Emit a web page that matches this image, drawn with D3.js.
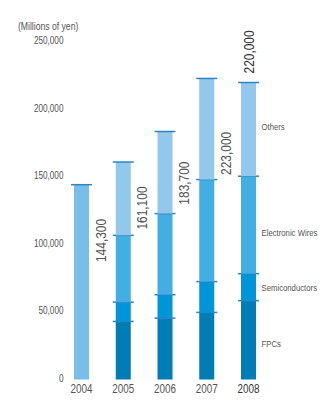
<!DOCTYPE html>
<html>
<head>
<meta charset="utf-8">
<script src="https://cdn.jsdelivr.net/npm/d3@7.8.5/dist/d3.min.js"></script>
<style>
  html, body { margin: 0; padding: 0; background: #fff; }
  svg { display: block; font-family: "Liberation Sans", Arial, sans-serif; }
</style>
</head>
<body>
<div id="chart"></div>
<script>
// data (millions of yen)
const years = ["2004", "2005", "2006", "2007", "2008"]
const undivided = [144300, 0, 0, 0, 0]        // 2004 has no breakdown
const fpcs = [0, 43000, 45500, 49700, 58400]
const semiconductors = [0, 14300, 17300, 22800, 20000]
const electronicWires = [0, 49500, 60100, 75600, 72200]
const others = [0, 54300, 60800, 74900, 69400]
const totals = [144300, 161100, 183700, 223000, 220000]
const totalLabels = ["144,300", "161,100", "183,700", "223,000", "220,000"]
// where the rotated total labels sit along the value axis
const labelAnchor = [103000, 127000, 145500, 167500, null]
const yTicks = [0, 50000, 100000, 150000, 200000, 250000]
const unitLabel = "(Millions of yen)"
const legendKeys = ["Others", "Electronic Wires", "Semiconductors", "FPCs"]
// where the series names sit along the value axis
const legendAnchor = [186800, 108700, 68000, 26300]

const width = 327, height = 420
const barWidth = 15

const colors = {
  "Undivided": "#79bee9",
  "FPCs": "#007cb6",
  "Semiconductors": "#0095d8",
  "Electronic Wires": "#42aee3",
  "Others": "#92c8eb"
}
const keys = ["FPCs", "Semiconductors", "Electronic Wires", "Others", "Undivided"]
const series = {
  "FPCs": fpcs, "Semiconductors": semiconductors,
  "Electronic Wires": electronicWires, "Others": others, "Undivided": undivided
}

const rows = years.map((year, i) => {
  const row = {year}
  keys.forEach(k => row[k] = series[k][i])
  return row
})
const stacked = d3.stack().keys(keys)(rows)

const x = d3.scalePoint().domain(years).range([81.5, 248.5])
const y = d3.scaleLinear().domain([0, 250000]).range([379.5, 42])

// condensed type: squeeze the rendered text horizontally
function squeeze(sel, k) {
  sel.each(function() {
    const w = this.getComputedTextLength()
    this.setAttribute("textLength", w * k)
    this.setAttribute("lengthAdjust", "spacingAndGlyphs")
  })
}

const svg = d3.select("#chart").append("svg")
  .attr("width", width)
  .attr("height", height)

// unit label
svg.append("text")
  .attr("x", 18)
  .attr("y", 29.5)
  .attr("font-size", 10.5)
  .attr("fill", "#555")
  .text(unitLabel)
  .call(squeeze, 0.82)

// y tick labels
svg.append("g")
  .selectAll("text")
  .data(yTicks)
  .join("text")
    .attr("x", 63.5)
    .attr("y", d => y(d) - 1.5)
    .attr("dy", "0.35em")
    .attr("text-anchor", "end")
    .attr("font-size", 10.5)
    .attr("fill", "#555")
    .text(d => d3.format(",")(d))
    .call(squeeze, 0.78)

// bars
const layers = svg.append("g")
  .selectAll("g")
  .data(stacked)
  .join("g")
    .attr("fill", d => colors[d.key])

layers.selectAll("rect")
  .data(d => d.filter(s => s[1] > s[0]))
  .join("rect")
    .attr("x", d => x(d.data.year) - barWidth / 2)
    .attr("width", barWidth)
    .attr("y", d => y(d[1]))
    .attr("height", d => y(d[0]) - y(d[1]))

// tick lines on top of each segment
layers.selectAll("line")
  .data(d => d.filter(s => s[1] > s[0]))
  .join("line")
    .attr("x1", d => x(d.data.year) - barWidth / 2 - 3)
    .attr("x2", d => x(d.data.year) + barWidth / 2 + 3)
    .attr("y1", d => y(d[1]))
    .attr("y2", d => y(d[1]))
    .attr("stroke", "#2a86c0")
    .attr("stroke-width", 1.5)

// rotated total labels
const last = years.length - 1
svg.append("g")
  .selectAll("text")
  .data(years)
  .join("text")
    .attr("transform", (d, i) => i === last
      ? `translate(${x(d)},${y(totals[i]) - 9}) rotate(-90)`
      : `translate(${x(d) + 18.5},${y(labelAnchor[i])}) rotate(-90)`)
    .attr("dy", "0.36em")
    .attr("text-anchor", (d, i) => i === last ? "start" : "middle")
    .attr("font-size", 15.5)
    .attr("fill", (d, i) => i === last ? "#333" : "#555")
    .text((d, i) => totalLabels[i])
    .call(squeeze, 0.77)

// year labels
svg.append("g")
  .selectAll("text")
  .data(years)
  .join("text")
    .attr("x", d => x(d))
    .attr("y", 392.5)
    .attr("text-anchor", "middle")
    .attr("font-size", 13)
    .attr("fill", (d, i) => i === last ? "#333" : "#555")
    .text(d => d)
    .call(squeeze, 0.76)

// series labels beside the 2008 bar
svg.append("g")
  .selectAll("text")
  .data(legendKeys)
  .join("text")
    .attr("x", 261.5)
    .attr("y", (k, i) => y(legendAnchor[i]))
    .attr("dy", "0.35em")
    .attr("font-size", 8.8)
    .attr("fill", "#555")
    .text(k => k)
    .call(squeeze, 0.88)
</script>
</body>
</html>
